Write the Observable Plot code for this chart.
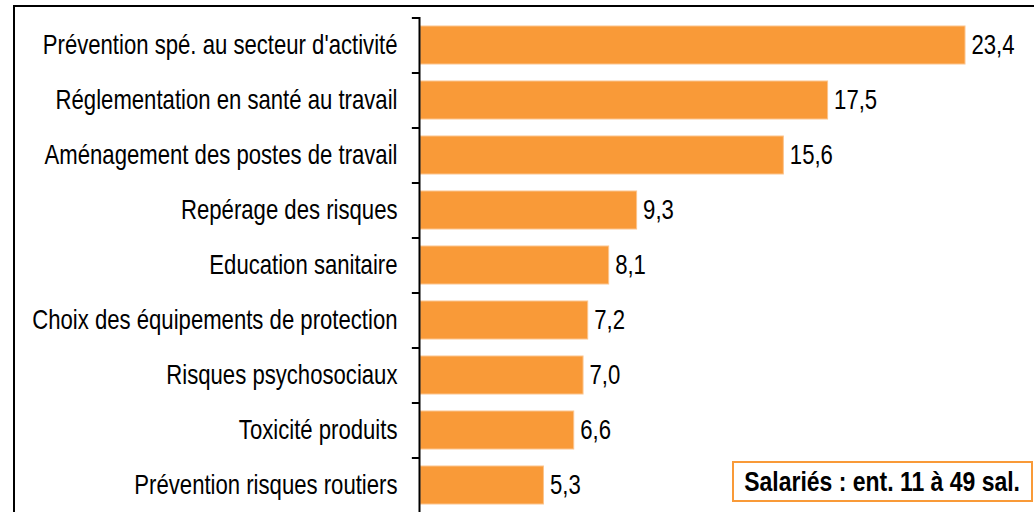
<!DOCTYPE html>
<html><head><meta charset="utf-8">
<script src="https://cdn.jsdelivr.net/npm/d3@7"></script>
<script src="https://cdn.jsdelivr.net/npm/@observablehq/plot@0.6"></script>
<style>
html,body{margin:0;padding:0;background:#fff;}
#wrap{position:relative;width:1034px;height:512px;overflow:hidden;font-family:"Liberation Sans",Arial,sans-serif;}
#frame{position:absolute;left:13px;top:5px;width:1100px;height:600px;border-left:2px solid #000;border-top:2px solid #000;box-sizing:border-box;}
#chart{position:absolute;left:0;top:0;}
#legend{position:absolute;left:732px;top:461px;width:301px;height:41px;box-sizing:border-box;border:2px solid #F99A38;background:#fff;display:flex;align-items:center;justify-content:center;color:#000;white-space:nowrap;}
#legend span{display:inline-block;font-weight:bold;font-size:28px;transform:scaleX(0.82);line-height:1;}
</style>
</head><body>
<div id="wrap"><div id="frame"></div><div id="chart"></div><div id="legend"><span>Salariés : ent. 11 à 49 sal.</span></div></div>
<script>
const categories = [
  "Prévention spé. au secteur d'activité",
  "Réglementation en santé au travail",
  "Aménagement des postes de travail",
  "Repérage des risques",
  "Education sanitaire",
  "Choix des équipements de protection",
  "Risques psychosociaux",
  "Toxicité produits",
  "Prévention risques routiers"
];
const values = [23.4, 17.5, 15.6, 9.3, 8.1, 7.2, 7.0, 6.6, 5.3];
const data = categories.map((c, i) => ({category: c, value: values[i]}));
const fmt = v => v.toFixed(1).replace(".", ",");
const font = '"Liberation Sans",Arial,sans-serif';

const chart = Plot.plot({
  width: 1034, height: 512,
  marginLeft: 420, marginRight: 69, marginTop: 17, marginBottom: 0,
  x: {domain: [0, 23.4], axis: null},
  y: {domain: categories, paddingInner: 0.31, paddingOuter: 0.155, label: null, tickSize: 0, tickPadding: 23},
  style: {fontFamily: font, fontSize: "27px", color: "#000", background: "transparent", overflow: "visible"},
  marks: [
    Plot.barX(data, {x: "value", y: "category", fill: "#F99A38", stroke: "#FCC48C", strokeWidth: 1}),
    Plot.text(data, {x: "value", y: "category", text: d => fmt(d.value), dx: 6, textAnchor: "start", fontSize: 27, fill: "#000"}),
    Plot.ruleX([0], {stroke: "#000", strokeWidth: 2, dx: -1}),
    Plot.ruleY(data, {y: "category", x1: -0.35, x2: 0, dy: -27.5, stroke: "#000", strokeWidth: 2}),
    Plot.ruleY([categories[categories.length - 1]], {y: d => d, x1: -0.35, x2: 0, dy: 27.5, stroke: "#000", strokeWidth: 2})
  ]
});
// condense glyphs horizontally (narrow face like the reference), about each text's anchor
chart.querySelectorAll("text").forEach(t => {
  const tr = t.getAttribute("transform") || "";
  t.setAttribute("transform", (tr + " scale(0.82,1)").trim());
});
document.getElementById("chart").appendChild(chart);
</script>
</body></html>
